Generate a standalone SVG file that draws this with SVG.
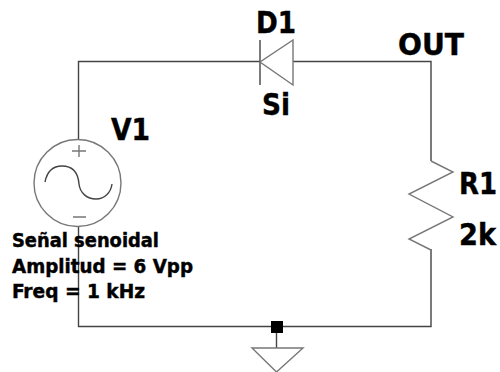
<svg xmlns="http://www.w3.org/2000/svg" width="500" height="372" viewBox="0 0 500 372">
<style>
.w{fill:none;stroke:#444;stroke-width:1.4}
.s{fill:none;stroke:#777;stroke-width:1.4}
.l{font-family:"DejaVu Sans Condensed","DejaVu Sans","Liberation Sans",sans-serif;font-stretch:condensed;font-weight:bold;fill:#000;stroke:#000;stroke-width:.4}
.b{font-size:30px}
.t{font-size:19px}
</style>
<rect width="500" height="372" fill="#fff"/>
<g id="connectors">
<path class="w" d="M78.500 139V61.500H260M293 61.500H431V161M431 249V326.500H78.500V226"/>
<path class="w" d="M276.500 333V348"/>
</g>
<g id="V1">
<circle class="s" cx="77.500" cy="183" r="43.500"/>
<path class="s" d="M72 151H86M79 145V157M73 217H86"/>
<path class="w" d="M45 182C47 172 53 166 62 166C72 166 78 172 79 184C80 193 87 199 96 199C105 199 111 192 112 184"/>
<text class="l b" x="111" y="140" textLength="39" lengthAdjust="spacingAndGlyphs">V1</text>
<text class="l t" x="12" y="247" textLength="147" lengthAdjust="spacingAndGlyphs">Señal senoidal</text>
<text class="l t" x="12" y="273" textLength="181" lengthAdjust="spacingAndGlyphs">Amplitud = 6 Vpp</text>
<text class="l t" x="12" y="298" textLength="133" lengthAdjust="spacingAndGlyphs">Freq = 1 kHz</text>
</g>
<g id="D1">
<path class="w" d="M260 40V85"/>
<path class="s" d="M293 40V85L260 62Z"/>
<text class="l b" x="256" y="33" textLength="40" lengthAdjust="spacingAndGlyphs">D1</text>
<text class="l b" x="262" y="115" textLength="28" lengthAdjust="spacingAndGlyphs">Si</text>
</g>
<g id="OUT">
<text class="l b" x="398" y="55" textLength="66" lengthAdjust="spacingAndGlyphs">OUT</text>
</g>
<g id="R1">
<path class="s" d="M431 161L453 172L409 194L453 217L409 239L431 250"/>
<text class="l b" x="459" y="194" textLength="38" lengthAdjust="spacingAndGlyphs">R1</text>
<text class="l b" x="459" y="245" textLength="37" lengthAdjust="spacingAndGlyphs">2k</text>
</g>
<g id="GND">
<rect x="271" y="321" width="12" height="12" fill="#000"/>
<path class="s" d="M252 348H303L276.500 372Z"/>
</g>
</svg>
